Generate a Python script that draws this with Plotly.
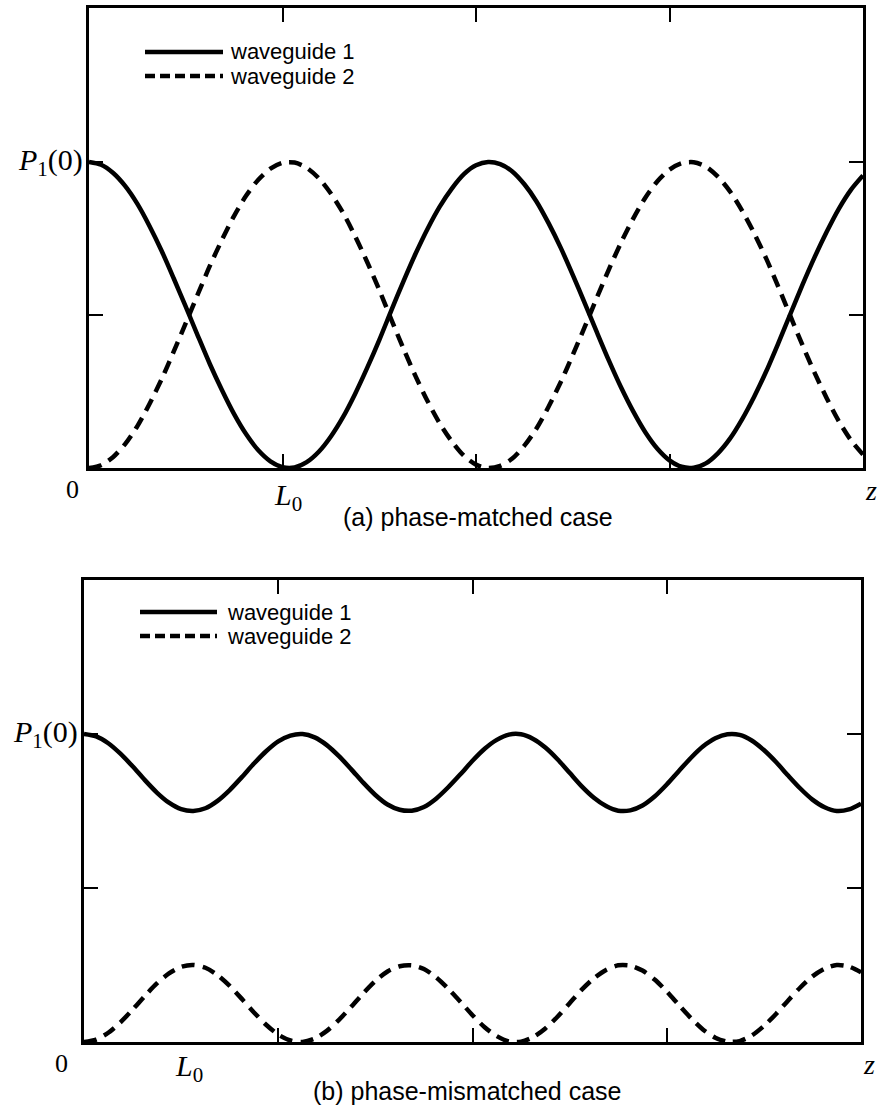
import plotly.graph_objects as go

# ---- data, z in units of the axis tick spacing ----
z_pts = [0.0000, 0.0625, 0.1250, 0.1875, 0.2500, 0.3125, 0.3750, 0.4375, 0.5000, 0.5625,
         0.6250, 0.6875, 0.7500, 0.8125, 0.8750, 0.9375, 1.0000, 1.0625, 1.1250, 1.1875,
         1.2500, 1.3125, 1.3750, 1.4375, 1.5000, 1.5625, 1.6250, 1.6875, 1.7500, 1.8125,
         1.8750, 1.9375, 2.0000, 2.0625, 2.1250, 2.1875, 2.2500, 2.3125, 2.3750, 2.4375,
         2.5000, 2.5625, 2.6250, 2.6875, 2.7500, 2.8125, 2.8750, 2.9375, 3.0000, 3.0625,
         3.1250, 3.1875, 3.2500, 3.3125, 3.3750, 3.4375, 3.5000, 3.5625, 3.6250, 3.6875,
         3.7500, 3.8125, 3.8750, 3.9375, 4.0000]

# (a) phase-matched case
wg1_matched = [1.000, 0.991, 0.964, 0.921, 0.863, 0.791, 0.710, 0.620, 0.527, 0.432,
               0.339, 0.254, 0.176, 0.110, 0.058, 0.022, 0.003, 0.002, 0.019, 0.053,
               0.103, 0.166, 0.242, 0.327, 0.418, 0.515, 0.610, 0.700, 0.782, 0.854,
               0.913, 0.960, 0.989, 1.000, 0.993, 0.969, 0.927, 0.871, 0.800, 0.720,
               0.631, 0.538, 0.443, 0.350, 0.263, 0.185, 0.117, 0.063, 0.025, 0.004,
               0.001, 0.015, 0.048, 0.096, 0.159, 0.233, 0.316, 0.408, 0.504, 0.599,
               0.689, 0.772, 0.847, 0.909, 0.956]
wg2_matched = [0.000, 0.009, 0.036, 0.079, 0.137, 0.209, 0.290, 0.380, 0.473, 0.568,
               0.661, 0.746, 0.824, 0.890, 0.942, 0.978, 0.997, 0.998, 0.981, 0.947,
               0.897, 0.834, 0.758, 0.673, 0.582, 0.485, 0.390, 0.300, 0.218, 0.146,
               0.087, 0.040, 0.011, 0.000, 0.007, 0.031, 0.073, 0.129, 0.200, 0.280,
               0.369, 0.462, 0.557, 0.650, 0.737, 0.815, 0.883, 0.937, 0.975, 0.996,
               0.999, 0.985, 0.952, 0.904, 0.841, 0.767, 0.684, 0.592, 0.496, 0.401,
               0.311, 0.228, 0.153, 0.091, 0.044]

# (b) phase-mismatched case
wg1_mismatched = [1.000, 0.992, 0.970, 0.936, 0.895, 0.851, 0.810, 0.777, 0.756, 0.750,
                  0.759, 0.783, 0.818, 0.860, 0.904, 0.944, 0.976, 0.995, 1.000, 0.989,
                  0.964, 0.928, 0.886, 0.842, 0.802, 0.771, 0.754, 0.751, 0.763, 0.790,
                  0.827, 0.869, 0.913, 0.952, 0.981, 0.998, 0.999, 0.984, 0.956, 0.918,
                  0.874, 0.830, 0.793, 0.766, 0.751, 0.752, 0.768, 0.797, 0.836, 0.880,
                  0.923, 0.960, 0.986, 0.999, 0.997, 0.979, 0.948, 0.909, 0.865, 0.823,
                  0.787, 0.762, 0.750, 0.755, 0.774]
wg2_mismatched = [0.000, 0.008, 0.030, 0.064, 0.105, 0.149, 0.190, 0.223, 0.244, 0.250,
                  0.241, 0.217, 0.182, 0.140, 0.096, 0.056, 0.024, 0.005, 0.000, 0.011,
                  0.036, 0.072, 0.114, 0.158, 0.198, 0.229, 0.246, 0.249, 0.237, 0.210,
                  0.173, 0.131, 0.087, 0.048, 0.019, 0.002, 0.001, 0.016, 0.044, 0.082,
                  0.126, 0.170, 0.207, 0.234, 0.249, 0.248, 0.232, 0.203, 0.164, 0.120,
                  0.077, 0.040, 0.014, 0.001, 0.003, 0.021, 0.052, 0.091, 0.135, 0.177,
                  0.213, 0.238, 0.250, 0.245, 0.226]

x_ticks = [1, 2, 3]
y_ticks = [0.5, 1.0]
series_names = ["waveguide 1", "waveguide 2"]
captions = ["(a) phase-matched case", "(b) phase-mismatched case"]

W, H = 880, 1111
SERIF = "Liberation Serif, Times New Roman, serif"
SANS = "Liberation Sans, Arial, sans-serif"
DASH = "13px,8px"
LEG_DASH = "10px,5px"
LW = 4.5

fig = go.Figure()

def px_x(p):
    return p / W

def px_y(p):
    return 1 - p / H

# panel geometry in pixels: (left, right, top, bottom)
panels = [(89, 863, 8, 468), (84, 861, 580, 1042)]
yranges = [[0, 1.503], [0, 1.5]]

for i, (l, r, t, b) in enumerate(panels):
    xa = "xaxis" if i == 0 else "xaxis2"
    ya = "yaxis" if i == 0 else "yaxis2"
    common = dict(showgrid=False, zeroline=False, showline=True, linecolor="black",
                  linewidth=2.5, mirror="ticks", ticks="inside", ticklen=14,
                  tickwidth=1.6, tickcolor="black", showticklabels=False)
    fig.layout[xa] = dict(domain=[px_x(l), px_x(r)], range=[0, 4], tickvals=x_ticks,
                          anchor="y" if i == 0 else "y2", **common)
    fig.layout[ya] = dict(domain=[px_y(b), px_y(t)], range=yranges[i], tickvals=y_ticks,
                          anchor="x" if i == 0 else "x2", **common)

data_sets = [(wg1_matched, wg2_matched), (wg1_mismatched, wg2_mismatched)]
for i, (s1, s2) in enumerate(data_sets):
    xr = "x" if i == 0 else "x2"
    yr = "y" if i == 0 else "y2"
    fig.add_trace(go.Scatter(x=z_pts, y=s1, mode="lines", name=series_names[0],
                             line=dict(color="black", width=LW, shape="spline", smoothing=0.8),
                             xaxis=xr, yaxis=yr, showlegend=False))
    fig.add_trace(go.Scatter(x=z_pts, y=s2, mode="lines", name=series_names[1],
                             line=dict(color="black", width=LW, dash=DASH, shape="spline", smoothing=0.8),
                             xaxis=xr, yaxis=yr, showlegend=False))

annotations = []
shapes = []

# legends (drawn manually to get the long line samples)
legend_geo = [(145, 223, 52, 76, 228), (140, 217, 612, 636, 225)]
for (x0, x1, y1, y2, xt) in legend_geo:
    shapes.append(dict(type="line", xref="paper", yref="paper", x0=px_x(x0), x1=px_x(x1),
                       y0=px_y(y1), y1=px_y(y1), line=dict(color="black", width=LW)))
    shapes.append(dict(type="line", xref="paper", yref="paper", x0=px_x(x0), x1=px_x(x1),
                       y0=px_y(y2), y1=px_y(y2), line=dict(color="black", width=LW, dash=LEG_DASH)))
    for yy, txt in [(y1, series_names[0]), (y2, series_names[1])]:
        annotations.append(dict(xref="paper", yref="paper", x=px_x(xt), y=px_y(yy),
                                text=txt, showarrow=False, xanchor="left", yanchor="middle",
                                font=dict(family=SANS, size=22, color="black")))

caption_x = [478, 467]
origin_dx = [17, 22]
for i, (l, r, t, b) in enumerate(panels):
    yr = "y" if i == 0 else "y2"
    # y label P1(0)
    annotations.append(dict(xref="paper", yref=yr, x=px_x(l - 4), y=1.0,
                            text="<i>P</i><sub>1</sub>(0)", showarrow=False,
                            xanchor="right", yanchor="middle",
                            font=dict(family=SERIF, size=30, color="black")))
    # origin 0
    annotations.append(dict(xref="paper", yref="paper", x=px_x(l - origin_dx[i]), y=px_y(b + 21),
                            text="0", showarrow=False, xanchor="center", yanchor="middle",
                            font=dict(family=SERIF, size=26, color="black")))
    # z
    annotations.append(dict(xref="paper", yref="paper", x=px_x(r + 8), y=px_y(b + 22),
                            text="<i>z</i>", showarrow=False, xanchor="center", yanchor="middle",
                            font=dict(family=SERIF, size=28, color="black")))
    # caption
    annotations.append(dict(xref="paper", yref="paper", x=px_x(caption_x[i]), y=px_y(b + 49),
                            text=captions[i], showarrow=False, xanchor="center", yanchor="middle",
                            font=dict(family=SANS, size=25, color="black")))

# L0 labels
annotations.append(dict(xref="x", yref="paper", x=1.03, y=px_y(497),
                        text="<i>L</i><sub>0</sub>", showarrow=False, xanchor="center",
                        yanchor="middle", font=dict(family=SERIF, size=30, color="black")))
annotations.append(dict(xref="x2", yref="paper", x=0.54, y=px_y(1068),
                        text="<i>L</i><sub>0</sub>", showarrow=False, xanchor="center",
                        yanchor="middle", font=dict(family=SERIF, size=30, color="black")))

fig.update_layout(width=W, height=H, margin=dict(l=0, r=0, t=0, b=0),
                  paper_bgcolor="white", plot_bgcolor="white",
                  annotations=annotations, shapes=shapes, showlegend=False)

fig.write_html("out.html")
